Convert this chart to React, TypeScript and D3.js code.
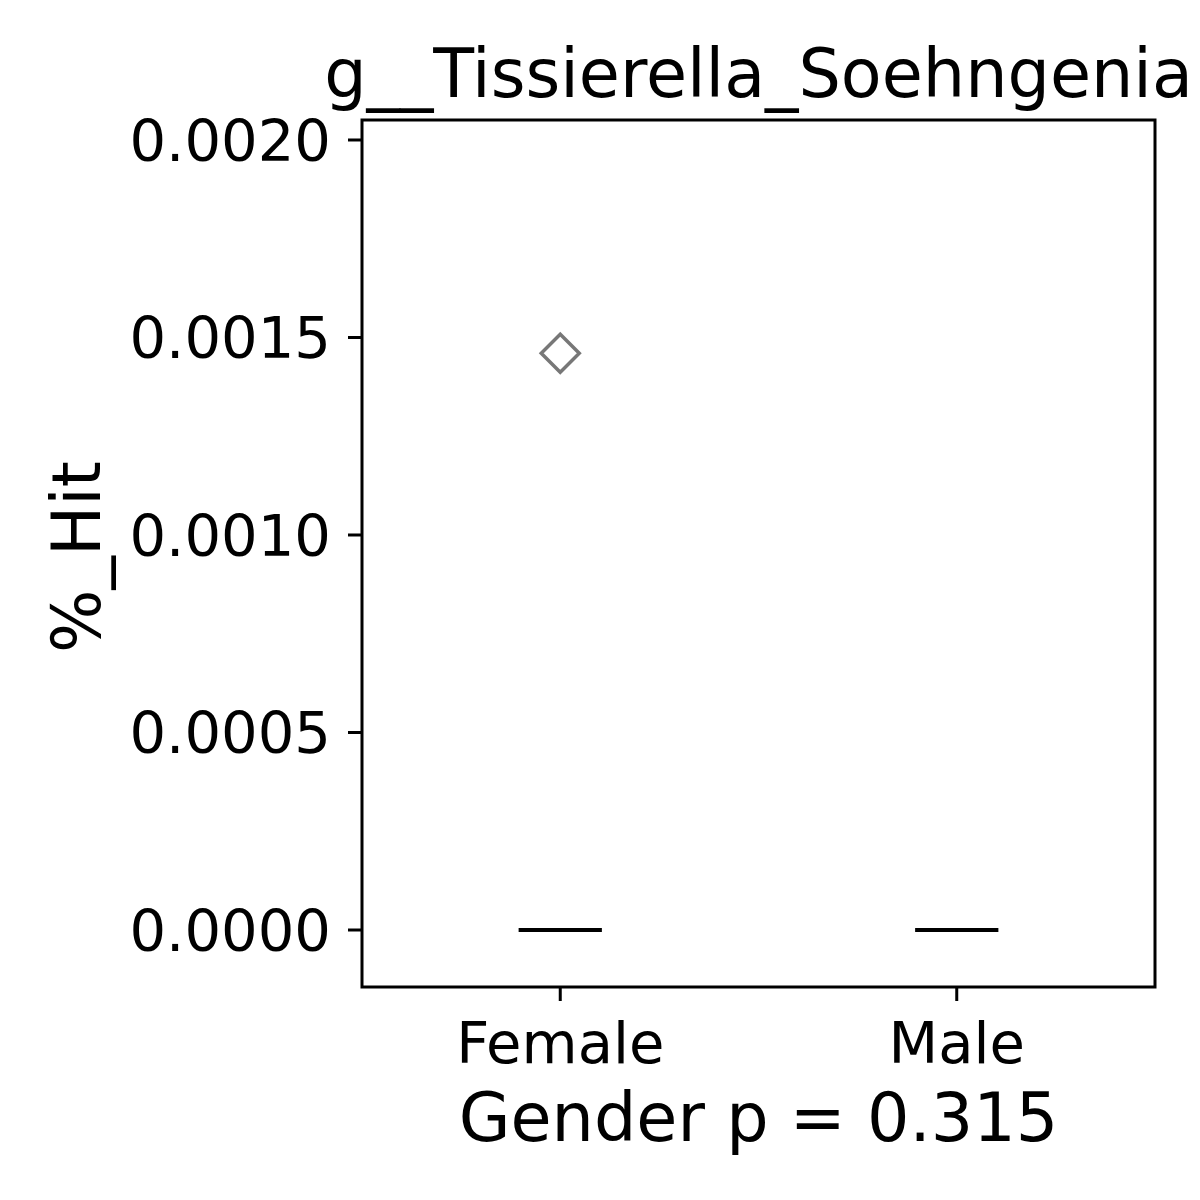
import React from "react";
import * as d3 from "d3";

const categories = ["Female", "Male"];
const q1Values = [0, 0];
const medianValues = [0, 0];
const q3Values = [0, 0];
const whiskerLow = [0, 0];
const whiskerHigh = [0, 0];
const outliers: number[][] = [[0.00146], []];
const yTicks = [0, 0.0005, 0.001, 0.0015, 0.002];
const titleText = "g__Tissierella_Soehngenia";
const xLabelText = "Gender p = 0.315";
const yLabelText = "%_Hit";

const W = 1200;
const H = 1200;
const left = 362;
const right = 1155;
const top = 120;
const bottom = 987;
const font = "DejaVu Sans";

export default function App() {
  const x = d3.scaleLinear().domain([0.5, 2.5]).range([left, right]);
  const y = d3.scaleLinear().domain([-0.0001443, 0.0020506]).range([bottom, top]);
  const boxW = 0.21;
  const fmt = d3.format(".4f");
  return (
    <svg width={W} height={H} style={{ position: "absolute", left: 0, top: 0, background: "#fff" }}>
      <rect x={0} y={0} width={W} height={H} fill="#fff" />
      {categories.map((c, i) => {
        const pos = i + 1;
        const x0 = x(pos - boxW / 2);
        const x1 = x(pos + boxW / 2);
        const xc = x(pos);
        return (
          <g key={c}>
            <line x1={xc} x2={xc} y1={y(q1Values[i])} y2={y(whiskerLow[i])} stroke="#000" strokeWidth={4} />
            <line x1={xc} x2={xc} y1={y(q3Values[i])} y2={y(whiskerHigh[i])} stroke="#000" strokeWidth={4} />
            <rect x={x0} y={y(q3Values[i])} width={x1 - x0} height={y(q1Values[i]) - y(q3Values[i])} fill="none" stroke="#000" strokeWidth={4} />
            <line x1={x0} x2={x1} y1={y(medianValues[i])} y2={y(medianValues[i])} stroke="#000" strokeWidth={4} />
            {outliers[i].map((v, j) => {
              const cy = y(v);
              const r = 19;
              return (
                <path key={j} d={`M${xc},${cy - r}L${xc + r},${cy}L${xc},${cy + r}L${xc - r},${cy}Z`} fill="none" stroke="#777" strokeWidth={3.5} />
              );
            })}
          </g>
        );
      })}
      <rect x={left} y={top} width={right - left} height={bottom - top} fill="none" stroke="#000" strokeWidth={3} />
      {yTicks.map((t) => (
        <g key={t}>
          <line x1={left - 14} x2={left} y1={y(t)} y2={y(t)} stroke="#000" strokeWidth={3} />
          <text x={331} y={y(t)} dy="0.364em" textAnchor="end" fontFamily={font} fontSize={57.6} fill="#000">
            {fmt(t)}
          </text>
        </g>
      ))}
      {categories.map((c, i) => (
        <g key={c}>
          <line x1={x(i + 1)} x2={x(i + 1)} y1={bottom} y2={bottom + 14} stroke="#000" strokeWidth={3} />
          <text x={x(i + 1)} y={1063} textAnchor="middle" fontFamily={font} fontSize={57.6} fill="#000">
            {c}
          </text>
        </g>
      ))}
      <text x={(left + right) / 2} y={1141} textAnchor="middle" fontFamily={font} fontSize={66.8} fill="#000">
        {xLabelText}
      </text>
      <text x={(left + right) / 2} y={97} textAnchor="middle" fontFamily={font} fontSize={66.8} fill="#000">
        {titleText}
      </text>
      <text transform={`translate(100,557) rotate(-90)`} textAnchor="middle" fontFamily={font} fontSize={66.8} fill="#000">
        {yLabelText}
      </text>
    </svg>
  );
}
